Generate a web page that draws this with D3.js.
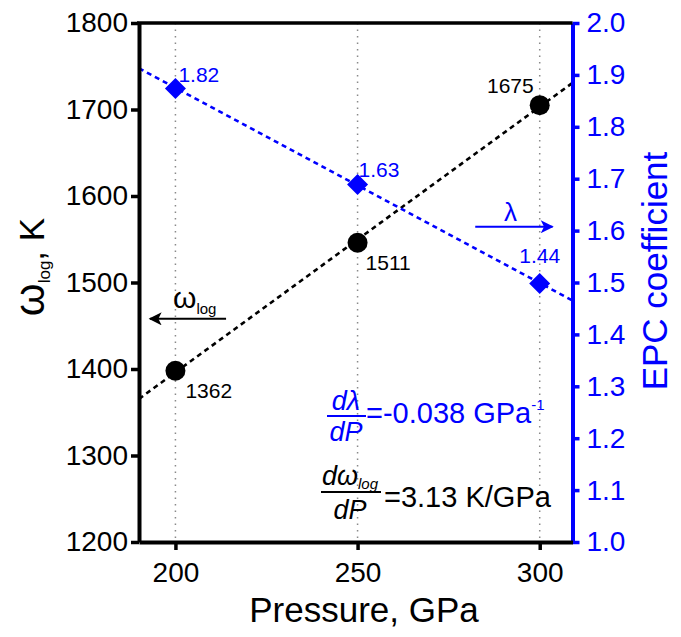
<!DOCTYPE html>
<html>
<head>
<meta charset="utf-8">
<script src="https://cdn.jsdelivr.net/npm/d3@7"></script>
<style>
  html, body { margin: 0; padding: 0; background: #fff; }
  svg { display: block; font-family: "Liberation Sans", Arial, sans-serif; }
</style>
</head>
<body>
<svg id="chart" width="681" height="637"></svg>
<script>
// ---- data ----
const pressure = [200, 250, 300];
const omegaValues = [1398, 1546, 1705];
const omegaLabels = ["1362", "1511", "1675"];
const lambdaValues = [1.874, 1.689, 1.498];
const lambdaLabels = ["1.82", "1.63", "1.44"];
const xTicks = [200, 250, 300];
const leftTicks = [1200, 1300, 1400, 1500, 1600, 1700, 1800];
const rightTicks = [1.0, 1.1, 1.2, 1.3, 1.4, 1.5, 1.6, 1.7, 1.8, 1.9, 2.0];

// ---- layout ----
const BLUE = "#0000ff";
const L = 139, R = 572.5, T = 23, B = 542;
const svg = d3.select("#chart");

const x = d3.scaleLinear().domain([190, 309]).range([L, R]);
const yL = d3.scaleLinear().domain([1200, 1800]).range([B, T]);
const yR = d3.scaleLinear().domain([1.0, 2.0]).range([B, T]);

// gridlines
svg.append("g").selectAll("line").data(xTicks).join("line")
  .attr("x1", d => x(d)).attr("x2", d => x(d))
  .attr("y1", T).attr("y2", B)
  .attr("stroke", "#8a8a8a").attr("stroke-width", 1.5)
  .attr("stroke-dasharray", "1.5,5");

// least-squares fit lines over the full x domain
function fit(xs, ys) {
  const mx = d3.mean(xs), my = d3.mean(ys);
  const b = d3.sum(xs, (v, i) => (v - mx) * (ys[i] - my)) / d3.sum(xs, v => (v - mx) ** 2);
  return v => my + b * (v - mx);
}
const fO = fit(pressure, omegaValues);
const fLm = fit(pressure, lambdaValues);
const xd = x.domain();

svg.append("line")
  .attr("x1", x(xd[0])).attr("y1", yL(fO(xd[0])))
  .attr("x2", x(xd[1])).attr("y2", yL(fO(xd[1])))
  .attr("stroke", "#000").attr("stroke-width", 2.6).attr("stroke-dasharray", "5,4");
svg.append("line")
  .attr("x1", x(xd[0])).attr("y1", yR(fLm(xd[0])))
  .attr("x2", x(xd[1])).attr("y2", yR(fLm(xd[1])))
  .attr("stroke", BLUE).attr("stroke-width", 2.6).attr("stroke-dasharray", "5,4");

// markers
svg.append("g").selectAll("circle").data(pressure).join("circle")
  .attr("cx", d => x(d)).attr("cy", (d, i) => yL(omegaValues[i]))
  .attr("r", 10).attr("fill", "#000");

const dh = 10.5;
svg.append("g").selectAll("path").data(pressure).join("path")
  .attr("d", (d, i) => {
    const cx = x(d), cy = yR(lambdaValues[i]);
    return `M${cx},${cy - dh}L${cx + dh},${cy}L${cx},${cy + dh}L${cx - dh},${cy}Z`;
  })
  .attr("fill", BLUE);

// point labels
const omegaOff = [[10, 27, "start"], [8, 27, "start"], [-6, -12, "end"]];
svg.append("g").selectAll("text").data(pressure).join("text")
  .attr("x", (d, i) => x(d) + omegaOff[i][0])
  .attr("y", (d, i) => yL(omegaValues[i]) + omegaOff[i][1])
  .attr("text-anchor", (d, i) => omegaOff[i][2])
  .attr("font-size", 21).attr("fill", "#000")
  .text((d, i) => omegaLabels[i]);

const lamOff = [[3, -6, "start"], [1, -7, "start"], [0, -21, "middle"]];
svg.append("g").selectAll("text").data(pressure).join("text")
  .attr("x", (d, i) => x(d) + lamOff[i][0])
  .attr("y", (d, i) => yR(lambdaValues[i]) + lamOff[i][1])
  .attr("text-anchor", (d, i) => lamOff[i][2])
  .attr("font-size", 21).attr("fill", BLUE)
  .text((d, i) => lambdaLabels[i]);

// arrows
const defs = svg.append("defs");
function marker(id, color) {
  defs.append("marker").attr("id", id)
    .attr("viewBox", "0 0 10 10").attr("refX", 9).attr("refY", 5)
    .attr("markerUnits", "userSpaceOnUse")
    .attr("markerWidth", 17).attr("markerHeight", 13).attr("orient", "auto")
    .append("path").attr("d", "M0,0L10,5L0,10L2.5,5Z").attr("fill", color);
}
marker("ahK", "#000");
marker("ahB", BLUE);

svg.append("line")
  .attr("x1", x(213.9)).attr("x2", x(193.0))
  .attr("y1", yL(1458)).attr("y2", yL(1458))
  .attr("stroke", "#000").attr("stroke-width", 2).attr("marker-end", "url(#ahK)");
const wl = svg.append("text").attr("x", x(205.3)).attr("y", yL(1458) - 11)
  .attr("text-anchor", "middle").attr("fill", "#000");
wl.append("tspan").attr("font-size", 30).text("ω");
wl.append("tspan").attr("font-size", 15).attr("dy", 6).text("log");

svg.append("line")
  .attr("x1", x(282.3)).attr("x2", x(303.5))
  .attr("y1", yR(1.6075)).attr("y2", yR(1.6075))
  .attr("stroke", BLUE).attr("stroke-width", 2).attr("marker-end", "url(#ahB)");
svg.append("text").attr("x", x(292)).attr("y", yR(1.6075) - 6)
  .attr("text-anchor", "middle").attr("fill", BLUE).attr("font-size", 26).text("λ");

// slope annotations
const a1 = svg.append("g").attr("fill", BLUE);
a1.append("text").attr("x", 346).attr("y", 410).attr("text-anchor", "middle")
  .attr("font-size", 27).attr("font-style", "italic").text("dλ");
a1.append("line").attr("x1", 327).attr("x2", 366).attr("y1", 416).attr("y2", 416)
  .attr("stroke", BLUE).attr("stroke-width", 2);
a1.append("text").attr("x", 346).attr("y", 441).attr("text-anchor", "middle")
  .attr("font-size", 27).attr("font-style", "italic").text("dP");
const t1 = a1.append("text").attr("x", 366).attr("y", 423).attr("font-size", 29);
t1.append("tspan").text("=-0.038 GPa");
t1.append("tspan").attr("font-size", 15).attr("dy", -13).text("-1");

const a2 = svg.append("g").attr("fill", "#000");
const n2 = a2.append("text").attr("x", 350).attr("y", 485).attr("text-anchor", "middle")
  .attr("font-style", "italic");
n2.append("tspan").attr("font-size", 27).text("dω");
n2.append("tspan").attr("font-size", 15).attr("dy", 4).text("log");
a2.append("line").attr("x1", 321).attr("x2", 381).attr("y1", 492).attr("y2", 492)
  .attr("stroke", "#000").attr("stroke-width", 2);
a2.append("text").attr("x", 350).attr("y", 519).attr("text-anchor", "middle")
  .attr("font-size", 27).attr("font-style", "italic").text("dP");
a2.append("text").attr("x", 384).attr("y", 507).attr("font-size", 29).text("=3.13 K/GPa");

// axes
const gL = svg.append("g").attr("transform", `translate(${L},0)`)
  .call(d3.axisLeft(yL).tickValues(leftTicks).tickFormat(d3.format("d"))
    .tickSize(8).tickPadding(3).tickSizeOuter(0));
const gR = svg.append("g").attr("transform", `translate(${R},0)`)
  .call(d3.axisRight(yR).tickValues(rightTicks).tickFormat(d3.format(".1f"))
    .tickSize(7).tickPadding(7).tickSizeOuter(0));
const gB = svg.append("g").attr("transform", `translate(0,${B})`)
  .call(d3.axisBottom(x).tickValues(xTicks).tickFormat(d3.format("d"))
    .tickSize(8).tickPadding(12).tickSizeOuter(0));

[gL, gB].forEach(g => {
  g.select(".domain").attr("stroke", "#000").attr("stroke-width", 4);
  g.selectAll(".tick line").attr("stroke", "#000").attr("stroke-width", 3.5);
  g.selectAll(".tick text").attr("fill", "#000").attr("font-size", 28)
    .attr("font-family", "Liberation Sans, Arial, sans-serif");
});
gR.select(".domain").attr("stroke", BLUE).attr("stroke-width", 4);
gR.selectAll(".tick line").attr("stroke", BLUE).attr("stroke-width", 3.5);
gR.selectAll(".tick text").attr("fill", BLUE).attr("font-size", 28)
  .attr("font-family", "Liberation Sans, Arial, sans-serif");

// top border
svg.append("line").attr("x1", L - 2).attr("x2", R).attr("y1", T).attr("y2", T)
  .attr("stroke", "#000").attr("stroke-width", 3.5);

// axis titles
svg.append("text").attr("x", 364).attr("y", 622).attr("text-anchor", "middle")
  .attr("font-size", 35).attr("fill", "#000").text("Pressure, GPa");

const yt = svg.append("text").attr("transform", "translate(44,267) rotate(-90)")
  .attr("text-anchor", "middle").attr("fill", "#000");
yt.append("tspan").attr("font-size", 42).text("ω");
yt.append("tspan").attr("font-size", 17).attr("dy", 6).text("log");
yt.append("tspan").attr("font-size", 35).attr("dy", -6).text(", K");

svg.append("text").attr("transform", "translate(667,271) rotate(-90)")
  .attr("text-anchor", "middle").attr("font-size", 35).attr("fill", BLUE)
  .text("EPC coefficient");
</script>
</body>
</html>
